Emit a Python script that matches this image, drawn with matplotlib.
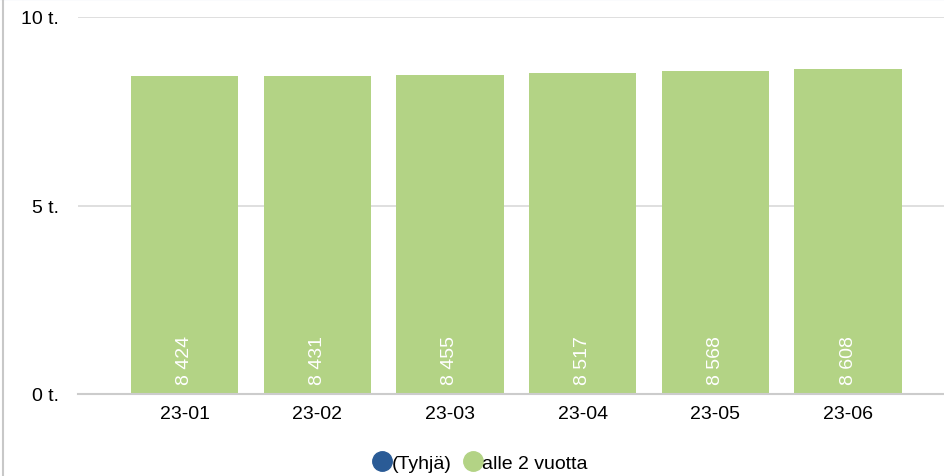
import matplotlib
matplotlib.use('Agg')
import matplotlib.pyplot as plt
from matplotlib.lines import Line2D
from matplotlib.ticker import FuncFormatter

plt.rcParams['font.family'] = ['Liberation Sans', 'DejaVu Sans']

# data
kuukaudet = ['23-01', '23-02', '23-03', '23-04', '23-05', '23-06']
arvot = [8424, 8431, 8455, 8517, 8568, 8608]
sarjat = ['(Tyhjä)', 'alle 2 vuotta']
varit = ['#2a5b96', '#b3d385']

fs = 14

fig = plt.figure(figsize=(9.45, 4.77), dpi=100)
ax = fig.add_axes([78 / 945, 1 - 395 / 477, 867 / 945, 377 / 477])

x = list(range(len(kuukaudet)))
ax.bar(x, arvot, width=0.81, color=varit[1], zorder=2)

for xi, v in zip(x, arvot):
    teksti = f'{v:,}'.replace(',', ' ')
    ax.text(xi, 270, teksti, rotation=90, ha='center', va='bottom',
            color='white', fontsize=fs, zorder=3)

ax.set_xlim(-0.803, 5.73)
ax.set_ylim(0, 10000)
ax.set_yticks([0, 5000, 10000])
ax.yaxis.set_major_formatter(FuncFormatter(lambda v, p: f'{int(v / 1000)} t.'))
ax.grid(axis='y', color='#d9d9d9', linewidth=1.2, zorder=0)
ax.set_xticks(x)
ax.set_xticklabels(kuukaudet)
ax.tick_params(axis='both', length=0, labelsize=fs, colors='black')
ax.tick_params(axis='y', pad=14)
ax.tick_params(axis='x', pad=8)
for s in ['top', 'right', 'left']:
    ax.spines[s].set_visible(False)
ax.spines['bottom'].set_color('#cccccc')
ax.spines['bottom'].set_linewidth(1.5)
ax.spines['bottom'].set_zorder(4)

# widget borders
fig.add_artist(Line2D([0, 1], [0.999, 0.999], color='#9bb3d4', linewidth=1.5))
fig.add_artist(Line2D([3.5 / 945, 3.5 / 945], [0, 1], color='#c8c8c8', linewidth=1.5))

kahvat = [Line2D([0], [0], marker='o', linestyle='', markersize=14,
                 markerfacecolor=c, markeredgecolor=c) for c in varit]
fig.legend(kahvat, sarjat, loc='center', bbox_to_anchor=(480 / 945, 1 - 464 / 477),
           ncol=2, frameon=False, fontsize=fs, handletextpad=0.0,
           columnspacing=0.6, handlelength=1.0, borderpad=0)

fig.savefig('out.png', dpi=100, facecolor='white')
